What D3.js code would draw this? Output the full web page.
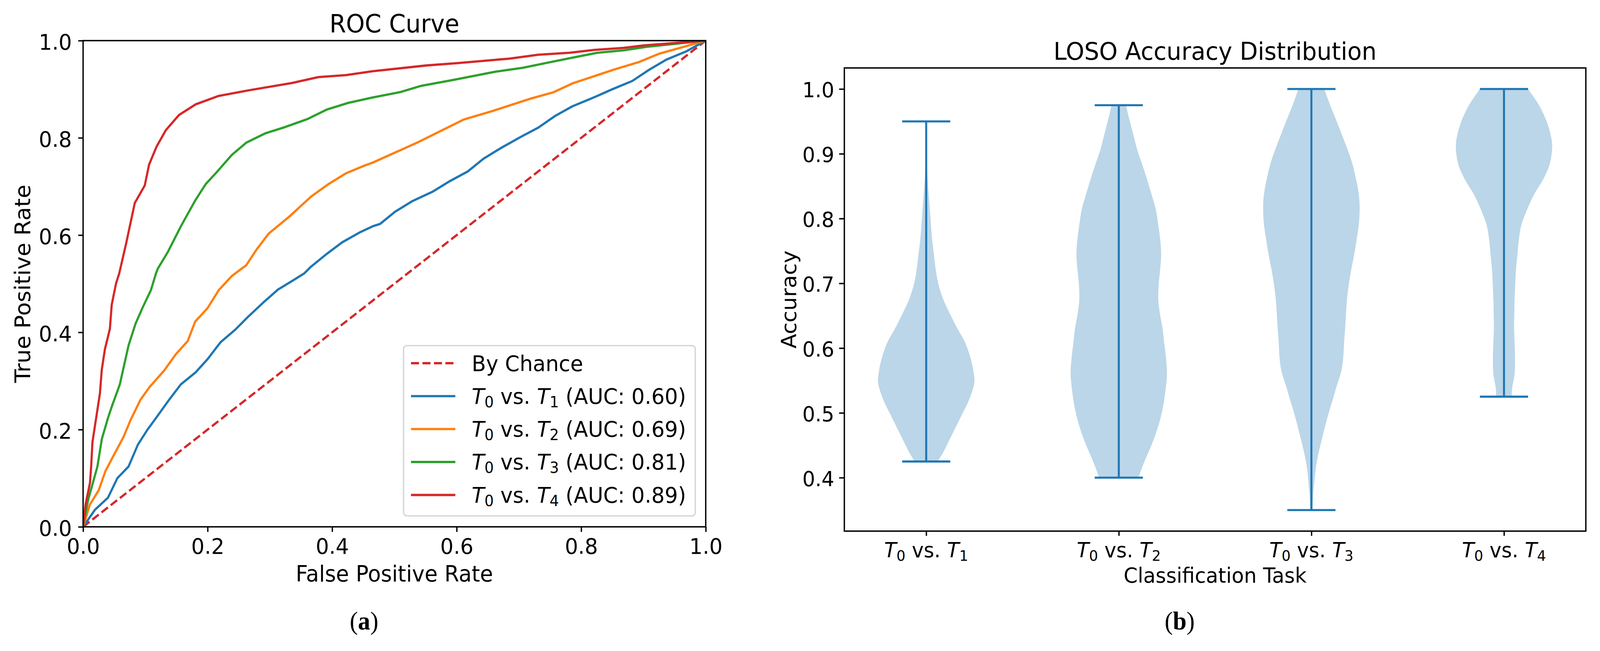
<!DOCTYPE html>
<html><head><meta charset="utf-8">
<script src="https://cdn.jsdelivr.net/npm/d3@7"></script>
<style>
html,body{margin:0;padding:0;background:#fff;overflow:hidden;width:100%;height:100%}
svg{display:block;width:100vw;height:100vh}
text{font-family:"DejaVu Sans",sans-serif;fill:#000;white-space:pre}
</style>
</head><body>
<svg id="c" viewBox="0 0 4294 1667" preserveAspectRatio="none"></svg>
<script>
// ---------------- DATA ----------------
// ROC curves: [FPR, TPR]
const chanceLine = [[0,0],[1,1]];
const rocT1 = [[0,0],[0.019,0.035],[0.040,0.060],[0.055,0.100],[0.073,0.124],[0.088,0.169],[0.103,0.199],[0.120,0.229],[0.138,0.261],[0.157,0.293],[0.181,0.318],[0.200,0.345],[0.221,0.380],[0.244,0.405],[0.265,0.432],[0.290,0.462],[0.313,0.488],[0.340,0.509],[0.355,0.521],[0.366,0.535],[0.391,0.561],[0.416,0.585],[0.445,0.606],[0.465,0.618],[0.477,0.623],[0.501,0.648],[0.529,0.670],[0.561,0.689],[0.589,0.711],[0.618,0.731],[0.643,0.757],[0.671,0.779],[0.703,0.802],[0.731,0.821],[0.758,0.845],[0.786,0.865],[0.820,0.883],[0.850,0.900],[0.882,0.917],[0.909,0.940],[0.937,0.961],[0.969,0.978],[1,1]];
const rocT2 = [[0,0],[0.011,0.046],[0.025,0.075],[0.036,0.115],[0.050,0.149],[0.065,0.185],[0.076,0.219],[0.092,0.261],[0.107,0.288],[0.130,0.321],[0.149,0.355],[0.168,0.382],[0.180,0.422],[0.200,0.450],[0.218,0.487],[0.239,0.516],[0.262,0.538],[0.279,0.571],[0.298,0.603],[0.332,0.639],[0.366,0.679],[0.393,0.704],[0.422,0.727],[0.452,0.743],[0.465,0.749],[0.538,0.791],[0.612,0.838],[0.657,0.855],[0.717,0.880],[0.756,0.894],[0.786,0.912],[0.854,0.941],[0.893,0.956],[0.925,0.973],[0.964,0.987],[1,1]];
const rocT3 = [[0,0],[0.008,0.055],[0.023,0.124],[0.030,0.180],[0.040,0.224],[0.046,0.247],[0.059,0.293],[0.073,0.373],[0.084,0.417],[0.096,0.452],[0.109,0.487],[0.117,0.521],[0.120,0.531],[0.136,0.565],[0.157,0.618],[0.180,0.671],[0.197,0.705],[0.215,0.730],[0.239,0.765],[0.262,0.790],[0.292,0.809],[0.324,0.822],[0.361,0.839],[0.391,0.858],[0.426,0.872],[0.465,0.883],[0.509,0.894],[0.543,0.907],[0.598,0.920],[0.662,0.936],[0.706,0.944],[0.740,0.953],[0.786,0.965],[0.826,0.975],[0.868,0.980],[0.904,0.987],[1,1]];
const rocT4 = [[0,0],[0.004,0.046],[0.011,0.090],[0.013,0.125],[0.015,0.174],[0.021,0.224],[0.027,0.274],[0.030,0.323],[0.035,0.365],[0.043,0.407],[0.046,0.457],[0.053,0.501],[0.058,0.521],[0.069,0.582],[0.083,0.666],[0.099,0.702],[0.106,0.745],[0.118,0.782],[0.133,0.816],[0.154,0.847],[0.181,0.869],[0.217,0.886],[0.267,0.898],[0.336,0.913],[0.378,0.925],[0.422,0.929],[0.465,0.937],[0.552,0.949],[0.603,0.954],[0.685,0.963],[0.731,0.971],[0.781,0.975],[0.822,0.981],[0.868,0.985],[0.900,0.990],[1,1]];
const rocSubs = ["1","2","3","4"];
const aucValues = ["0.60","0.69","0.81","0.89"];
const rocColors = ["#1f77b4","#ff7f0e","#2ca02c","#d62728"];
const axisTicks01 = [0,0.2,0.4,0.6,0.8,1.0];

// Violin profiles: [accuracy, relative KDE width]
const violinT1 = [[0.425,0.24],[0.44,0.36],[0.455,0.46],[0.47,0.56],[0.485,0.66],[0.50,0.76],[0.515,0.86],[0.53,0.94],[0.547,1.0],[0.565,0.98],[0.585,0.92],[0.61,0.80],[0.63,0.65],[0.655,0.48],[0.676,0.35],[0.70,0.25],[0.72,0.20],[0.745,0.16],[0.77,0.12],[0.80,0.09],[0.83,0.06],[0.86,0.03],[0.88,0.015],[0.91,0.006],[0.95,0.002]];
const violinT2 = [[0.40,0.41],[0.415,0.48],[0.43,0.56],[0.445,0.65],[0.46,0.73],[0.475,0.80],[0.49,0.86],[0.51,0.92],[0.535,0.97],[0.56,1.0],[0.585,0.98],[0.61,0.94],[0.63,0.91],[0.655,0.85],[0.676,0.82],[0.70,0.83],[0.722,0.86],[0.745,0.88],[0.768,0.86],[0.79,0.82],[0.814,0.77],[0.835,0.69],[0.86,0.59],[0.885,0.48],[0.907,0.38],[0.93,0.30],[0.953,0.22],[0.975,0.15]];
const violinT3 = [[0.35,0.025],[0.371,0.035],[0.392,0.06],[0.414,0.09],[0.435,0.14],[0.457,0.21],[0.478,0.28],[0.50,0.36],[0.522,0.45],[0.54,0.52],[0.564,0.62],[0.584,0.66],[0.61,0.68],[0.63,0.70],[0.655,0.72],[0.676,0.74],[0.70,0.78],[0.722,0.83],[0.745,0.89],[0.768,0.94],[0.795,0.99],[0.824,1.0],[0.845,0.97],[0.86,0.93],[0.885,0.85],[0.907,0.75],[0.93,0.63],[0.953,0.51],[0.975,0.39],[1.0,0.27]];
const violinT4 = [[0.525,0.16],[0.538,0.17],[0.56,0.22],[0.584,0.23],[0.61,0.22],[0.63,0.21],[0.655,0.215],[0.676,0.22],[0.70,0.235],[0.722,0.25],[0.745,0.28],[0.768,0.31],[0.79,0.36],[0.814,0.48],[0.838,0.63],[0.86,0.81],[0.884,0.95],[0.913,1.0],[0.935,0.95],[0.953,0.87],[0.976,0.72],[1.0,0.50]];
const violinMin = [0.425,0.40,0.35,0.525];
const violinMax = [0.95,0.975,1.0,1.0];
const taskPositions = [1,2,3,4];
const accTicks = [0.4,0.5,0.6,0.7,0.8,0.9,1.0];

// ---------------- DRAWING ----------------
const svg = d3.select("#c");
const defs = svg.append("defs");
const black = "#000";

function mathLabel(t, a, b, suffix, size){
  const sh = size*0.16;
  t.append("tspan").attr("font-style","italic").text("T");
  t.append("tspan").attr("font-size",size*0.7).attr("dy",sh).text(a);
  t.append("tspan").attr("dy",-sh).text(" vs. ");
  t.append("tspan").attr("font-style","italic").text("T");
  t.append("tspan").attr("font-size",size*0.7).attr("dy",sh).text(b);
  if(suffix) t.append("tspan").attr("dy",-sh).text(suffix);
}

// ===== Left: ROC =====
const xL = d3.scaleLinear().domain([0,1]).range([223,1894]);
const yL = d3.scaleLinear().domain([0,1]).range([1349,104]);
defs.append("clipPath").attr("id","clipL").append("rect")
  .attr("x",xL(0)).attr("y",yL(1)).attr("width",xL(1)-xL(0)).attr("height",yL(0)-yL(1));
const gL = svg.append("g");
const plotL = gL.append("g").attr("clip-path","url(#clipL)");
const rocLine = d3.line().x(d=>xL(d[0])).y(d=>yL(d[1]));
const LW = 5.8;
plotL.append("path").datum(chanceLine).attr("d",rocLine).attr("fill","none")
  .attr("stroke","#d62728").attr("stroke-width",LW).attr("stroke-dasharray","21.5,9.3");
[rocT1,rocT2,rocT3,rocT4].forEach((s,i)=>{
  plotL.append("path").datum(s).attr("d",rocLine).attr("fill","none")
    .attr("stroke",rocColors[i]).attr("stroke-width",LW).attr("stroke-linejoin","round");
});

function styleAxis(g, size){
  g.attr("font-family","DejaVu Sans").attr("font-size",size);
  g.select(".domain").remove();
  g.selectAll(".tick line").attr("stroke",black).attr("stroke-width",3.6);
  g.selectAll(".tick text").attr("fill",black);
}
gL.append("g").attr("transform",`translate(0,${yL(0)})`)
  .call(d3.axisBottom(xL).tickValues(axisTicks01).tickSize(13).tickFormat(d3.format(".1f")))
  .call(g=>{styleAxis(g,56); g.selectAll(".tick text").attr("y",69).attr("dy",null);});
gL.append("g").attr("transform",`translate(${xL(0)},0)`)
  .call(d3.axisLeft(yL).tickValues(axisTicks01).tickSize(13).tickFormat(d3.format(".1f")))
  .call(g=>{styleAxis(g,56); g.selectAll(".tick text").attr("x",-30).attr("dy",null).attr("y",22);});
gL.append("rect").attr("x",xL(0)).attr("y",yL(1)).attr("width",xL(1)-xL(0)).attr("height",yL(0)-yL(1))
  .attr("fill","none").attr("stroke",black).attr("stroke-width",3.6);

gL.append("text").attr("x",(xL(0)+xL(1))/2).attr("y",83).attr("text-anchor","middle").attr("font-size",64).text("ROC Curve");
gL.append("text").attr("x",(xL(0)+xL(1))/2).attr("y",1489).attr("text-anchor","middle").attr("font-size",57).text("False Positive Rate");
gL.append("text").attr("transform",`translate(81,${(yL(0)+yL(1))/2}) rotate(-90)`).attr("text-anchor","middle").attr("font-size",57).text("True Positive Rate");

// legend
const leg = gL.append("g");
leg.append("rect").attr("x",1083).attr("y",885).attr("width",783).attr("height",436).attr("rx",9)
  .attr("fill","#fff").attr("fill-opacity",0.8).attr("stroke","#d6d6d6").attr("stroke-width",3.6);
const legY = [930,1014.4,1098.7,1183,1267.5];
leg.append("line").attr("x1",1103).attr("x2",1222).attr("y1",legY[0]).attr("y2",legY[0])
  .attr("stroke","#d62728").attr("stroke-width",LW).attr("stroke-dasharray","21.5,9.3");
leg.append("text").attr("x",1266).attr("y",legY[0]+20).attr("font-size",56).text("By Chance");
rocSubs.forEach((s,i)=>{
  const y = legY[i+1];
  leg.append("line").attr("x1",1103).attr("x2",1222).attr("y1",y).attr("y2",y)
    .attr("stroke",rocColors[i]).attr("stroke-width",LW);
  const t = leg.append("text").attr("x",1266).attr("y",y+19.5).attr("font-size",56);
  mathLabel(t,"0",s,` (AUC: ${aucValues[i]})`,56);
});

// caption (a)
const capA = svg.append("text").attr("x",977).attr("y",1612).attr("text-anchor","middle")
  .attr("font-size",66).style("font-family","'Liberation Serif',serif");
capA.append("tspan").text("(");
capA.append("tspan").attr("font-weight","bold").text("a");
capA.append("tspan").text(")");

// ===== Right: violins =====
const xR = d3.scaleLinear().domain([0.575,4.425]).range([2266,4256]);
const yR = d3.scaleLinear().domain([0.3175,1.0325]).range([1360,174]);
const gR = svg.append("g");
const halfW = xR(1.25)-xR(1);
const capHalf = xR(1.125)-xR(1);
const vColor = "#1f77b4";
[violinT1,violinT2,violinT3,violinT4].forEach((prof,i)=>{
  const cx = xR(taskPositions[i]);
  const area = d3.area().y(d=>yR(d[0])).x0(d=>cx-d[1]*halfW).x1(d=>cx+d[1]*halfW).curve(d3.curveCatmullRom);
  gR.append("path").datum(prof).attr("d",area).attr("fill",vColor).attr("fill-opacity",0.3).attr("stroke","none");
});
taskPositions.forEach((p,i)=>{
  const cx = xR(p);
  gR.append("line").attr("x1",cx).attr("x2",cx).attr("y1",yR(violinMin[i])).attr("y2",yR(violinMax[i]))
    .attr("stroke",vColor).attr("stroke-width",5.4);
  [violinMin[i],violinMax[i]].forEach(v=>{
    gR.append("line").attr("x1",cx-capHalf).attr("x2",cx+capHalf).attr("y1",yR(v)).attr("y2",yR(v))
      .attr("stroke",vColor).attr("stroke-width",5.4);
  });
});

gR.append("g").attr("transform",`translate(${xR.range()[0]},0)`)
  .call(d3.axisLeft(yR).tickValues(accTicks).tickSize(14).tickFormat(d3.format(".1f")))
  .call(g=>{styleAxis(g,54); g.selectAll(".tick text").attr("x",-27).attr("dy",null).attr("y",21);});
gR.append("g").attr("transform",`translate(0,${yR.range()[0]})`)
  .call(d3.axisBottom(xR).tickValues(taskPositions).tickSize(12).tickFormat(""))
  .call(g=>{styleAxis(g,54);});
taskPositions.forEach((p,i)=>{
  const t = gR.append("text").attr("x",xR(p)).attr("y",1427).attr("text-anchor","middle").attr("font-size",54);
  mathLabel(t,"0",rocSubs[i],"",54);
});
gR.append("rect").attr("x",xR.range()[0]).attr("y",yR.range()[1]).attr("width",xR.range()[1]-xR.range()[0]).attr("height",yR.range()[0]-yR.range()[1])
  .attr("fill","none").attr("stroke",black).attr("stroke-width",3.6);

const cxR = (xR.range()[0]+xR.range()[1])/2;
gR.append("text").attr("x",cxR).attr("y",153).attr("text-anchor","middle").attr("font-size",63).text("LOSO Accuracy Distribution");
gR.append("text").attr("x",cxR).attr("y",1492).attr("text-anchor","middle").attr("font-size",54).text("Classification Task");
gR.append("text").attr("transform",`translate(2136,${(yR.range()[0]+yR.range()[1])/2}) rotate(-90)`).attr("text-anchor","middle").attr("font-size",55).text("Accuracy");

const capB = svg.append("text").attr("x",3166).attr("y",1612).attr("text-anchor","middle")
  .attr("font-size",66).style("font-family","'Liberation Serif',serif");
capB.append("tspan").text("(");
capB.append("tspan").attr("font-weight","bold").text("b");
capB.append("tspan").text(")");
</script>
</body></html>
